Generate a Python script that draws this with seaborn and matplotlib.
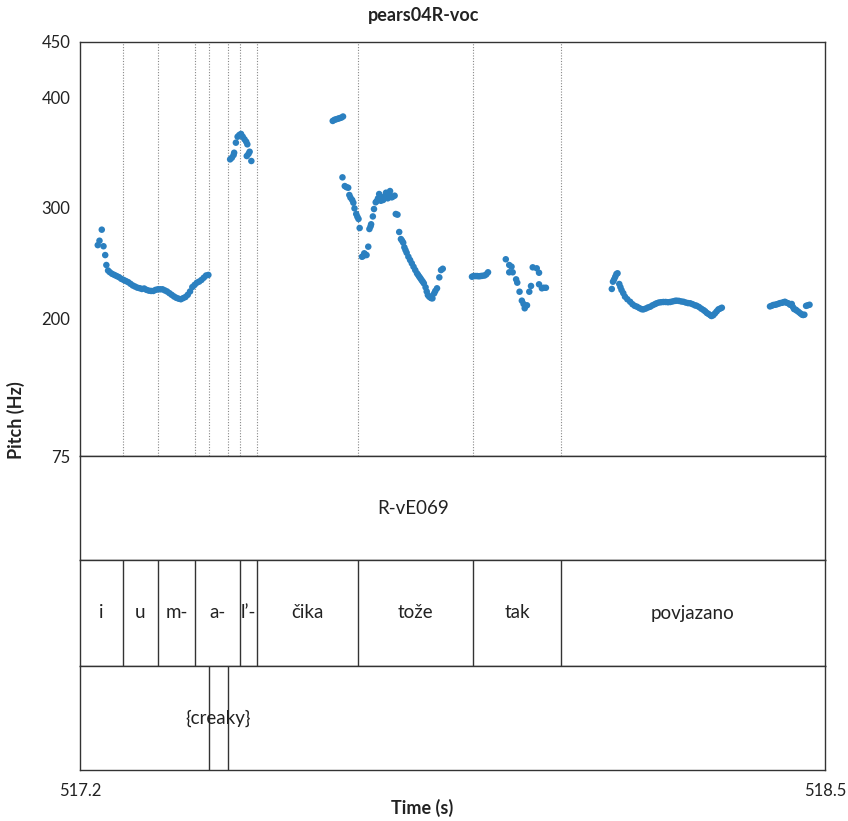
import numpy as np
import pandas as pd
import matplotlib
matplotlib.use("Agg")
import matplotlib.pyplot as plt
import seaborn as sns

# ---------------- data ----------------
title = "pears04R-voc"
t_min, t_max = 517.2, 518.5
pitch_ticks = [75, 200, 300, 400, 450]

seg_a_t = [517.231, 517.234, 517.238, 517.241, 517.244, 517.246, 517.249,
           517.252, 517.256, 517.260, 517.264, 517.268, 517.272, 517.276, 517.280,
           517.284, 517.288, 517.292, 517.296, 517.300, 517.304, 517.308, 517.312,
           517.316, 517.320, 517.324, 517.328, 517.332, 517.336, 517.340, 517.344,
           517.348, 517.352, 517.356, 517.360, 517.364, 517.368, 517.372, 517.376,
           517.380, 517.384, 517.388, 517.392, 517.396, 517.400, 517.404, 517.408,
           517.412, 517.416, 517.420, 517.424]
seg_a_f = [266.0, 270.0, 280.0, 265.0, 257.0, 248.0, 243.0,
           241.5, 240.0, 239.0, 238.0, 237.0, 235.5, 234.5, 233.5,
           232.5, 231.0, 229.5, 228.5, 227.5, 227.0, 226.3, 226.7,
           225.5, 224.8, 224.5, 224.5, 225.5, 226.0, 226.0, 226.0,
           225.0, 224.0, 222.5, 221.0, 219.5, 218.3, 217.5, 217.0,
           218.0, 219.0, 221.0, 224.0, 228.0, 230.0, 232.0, 233.0,
           234.5, 236.5, 238.5, 239.0]

seg_b_t = [517.462, 517.465, 517.468, 517.469, 517.472, 517.475, 517.478, 517.481,
           517.484, 517.487, 517.490, 517.492, 517.491, 517.494, 517.496, 517.499]
seg_b_f = [343.7, 345.2, 347.6, 349.7, 358.8, 364.2, 365.8, 366.7,
           364.2, 361.9, 359.7, 357.3, 346.7, 348.6, 350.6, 342.2]

seg_c_t = [517.641, 517.644, 517.647, 517.650, 517.653, 517.656, 517.659]
seg_c_f = [378.5, 379.5, 380.0, 380.5, 381.0, 381.5, 382.5]

seg_d_t = [517.658, 517.662, 517.665, 517.668, 517.670, 517.672, 517.675, 517.677,
           517.679, 517.682, 517.684, 517.686, 517.688,
           517.692, 517.694, 517.696, 517.698, 517.700, 517.703, 517.705, 517.707,
           517.708, 517.711, 517.713, 517.716, 517.718, 517.720, 517.722, 517.725,
           517.727, 517.729, 517.731, 517.734, 517.737, 517.739, 517.741, 517.744,
           517.746, 517.749, 517.751, 517.754, 517.757, 517.760, 517.762, 517.764,
           517.766, 517.768, 517.770, 517.773, 517.776, 517.779, 517.782, 517.785,
           517.788, 517.790, 517.792, 517.794, 517.796, 517.798, 517.800, 517.803,
           517.805, 517.807, 517.809, 517.811, 517.813, 517.815, 517.818, 517.820,
           517.823, 517.827, 517.830, 517.833]
seg_d_f = [327.4, 319.5, 318.5, 318.0, 311.4, 309.0, 306.9, 304.4,
           299.3, 294.2, 291.7, 289.7, 281.5,
           255.5, 256.0, 258.6, 257.5, 257.0, 264.6, 280.6, 283.0,
           284.9, 292.0, 298.7, 304.8, 306.0, 308.4, 312.3, 306.2,
           308.0, 306.9, 310.0, 313.5, 308.4, 312.0, 315.0, 309.3,
           310.0, 310.8, 294.2, 293.6, 277.9, 271.5, 270.0, 268.2,
           264.0, 261.5, 259.1, 255.5, 252.5, 249.5, 246.4, 243.4,
           240.5, 239.0, 237.4, 236.0, 234.4, 233.0, 231.4, 227.8,
           224.0, 220.8, 219.5, 218.7, 218.0, 217.8, 222.3, 224.5,
           226.9, 236.8, 243.4, 244.6]

seg_e_t = [517.884, 517.887, 517.890, 517.893, 517.896, 517.899, 517.902, 517.906,
           517.909, 517.912]
seg_e_f = [237.4, 238.0, 238.0, 238.0, 237.8, 238.0, 238.2, 238.5, 239.5, 241.4]

seg_f_t = [517.943, 517.949, 517.953, 517.949, 517.955, 517.961, 517.963, 517.967,
           517.971, 517.974, 517.976, 517.980, 517.984, 517.987, 517.990, 517.997,
           518.001, 518.001, 518.006, 518.009, 518.013]
seg_f_f = [253.2, 248.0, 246.5, 241.4, 241.4, 235.0, 232.0, 223.8,
           215.7, 212.7, 208.8, 211.5, 223.8, 229.0, 245.9, 245.0,
           241.0, 230.5, 226.9, 227.4, 227.4]

seg_g_t = [518.128, 518.130, 518.132, 518.134, 518.136, 518.138, 518.141, 518.143,
           518.145, 518.148, 518.151, 518.155, 518.160, 518.164, 518.168, 518.172,
           518.176, 518.180, 518.183, 518.187, 518.191, 518.195, 518.199, 518.203,
           518.206, 518.210, 518.214, 518.218, 518.222, 518.226, 518.230, 518.234,
           518.238, 518.241, 518.245, 518.249, 518.253, 518.257, 518.261, 518.265,
           518.269, 518.273, 518.276, 518.280, 518.284, 518.288, 518.291, 518.294,
           518.297, 518.300, 518.302, 518.305, 518.308, 518.311, 518.314, 518.317,
           518.320]
seg_g_f = [226.3, 232.9, 235.0, 237.4, 239.8, 240.5, 230.8, 228.0,
           225.3, 222.5, 219.3, 217.0, 214.7, 212.5, 211.0, 210.2,
           209.0, 208.0, 207.8, 208.5, 209.5, 210.2, 211.5, 212.5,
           213.3, 214.0, 214.3, 214.5, 214.5, 214.3, 214.5, 215.0,
           215.5, 215.7, 215.5, 215.0, 214.7, 214.0, 213.5, 213.3,
           212.5, 211.5, 211.1, 210.0, 208.5, 207.2, 206.0, 204.5,
           203.6, 202.5, 201.8, 202.5, 204.2, 206.0, 207.8, 208.5,
           209.3]

seg_h_t = [518.404, 518.407, 518.410, 518.413, 518.416, 518.419, 518.422, 518.425,
           518.428, 518.430, 518.433, 518.436, 518.439, 518.442, 518.444, 518.446,
           518.449, 518.451, 518.454, 518.457, 518.460, 518.462, 518.464,
           518.467, 518.470, 518.473]
seg_h_f = [210.5, 211.1, 211.8, 212.0, 212.4, 213.0, 213.5, 213.8,
           214.3, 214.7, 213.8, 213.3, 212.0, 212.7, 210.0, 208.1,
           207.5, 206.6, 205.5, 204.2, 203.0, 202.7, 203.0,
           211.0, 211.5, 212.0]

# tiers (interval edges; tier 1 interval starts before the visible window)
tier1_edges = [517.062, 518.5]
tier1_labels = ["R-vE069"]
tier2_edges = [517.2, 517.275, 517.336, 517.401, 517.479, 517.509, 517.685,
               517.886, 518.039, 518.5]
tier2_labels = ["i", "u", "m-", "a-", "l\u2019-", "\u010dika", "to\u017ee", "tak", "povjazano"]
tier3_edges = [517.2, 517.425, 517.458, 518.5]
tier3_labels = ["", "{creaky}", ""]

# ---------------- figure ----------------
sns.set_theme(style="white")
plt.rcParams["font.family"] = ["Lato", "DejaVu Sans"]

times = (seg_a_t + seg_b_t + seg_c_t + seg_d_t + seg_e_t + seg_f_t + seg_g_t + seg_h_t)
freqs = (seg_a_f + seg_b_f + seg_c_f + seg_d_f + seg_e_f + seg_f_f + seg_g_f + seg_h_f)
df = pd.DataFrame({"time": times, "pitch": freqs})

W, H = 848, 821
fig = plt.figure(figsize=(W / 100, H / 100), dpi=100)
left, right = 80 / W, 825 / W
top, bottom = 1 - 42 / H, 1 - 770 / H
gs = fig.add_gridspec(4, 1, height_ratios=[414, 104, 106, 104], hspace=0,
                      left=left, right=right, top=top, bottom=bottom)
ax = fig.add_subplot(gs[0])
tiers = [fig.add_subplot(gs[i], sharex=ax) for i in (1, 2, 3)]

edge = "#333333"
blue = "#2b80c0"
txt = "#222222"

inner = sorted(set(tier2_edges[1:-1] + tier3_edges[1:-1]))
for b in inner:
    ax.axvline(b, color="#888888", lw=0.8, ls=(0, (1, 1.5)), zorder=1)

sns.scatterplot(data=df, x="time", y="pitch", ax=ax, color=blue, s=22,
                edgecolor="none", linewidth=0, zorder=3, legend=False)
ax.set_xlim(t_min, t_max)
ax.set_ylim(75, 450)
ax.set_yticks(pitch_ticks)
ax.set_yticklabels([str(v) for v in pitch_ticks])
ax.tick_params(axis="y", length=0, pad=7, labelsize=12, colors=txt)
ax.tick_params(axis="x", length=0, labelbottom=False)
ax.set_xlabel("")
ax.set_ylabel("")

tier_defs = [(tier1_edges, tier1_labels), (tier2_edges, tier2_labels),
             (tier3_edges, tier3_labels)]
for tax, (edges, labels) in zip(tiers, tier_defs):
    tax.set_ylim(0, 1)
    tax.set_yticks([])
    for b in edges:
        if t_min < b < t_max:
            tax.axvline(b, color=edge, lw=1.0, zorder=2)
    for i, lab in enumerate(labels):
        if lab:
            tax.text((edges[i] + edges[i + 1]) / 2, 0.5, lab, ha="center",
                     va="center", fontsize=13.5, color=txt)
    tax.tick_params(axis="x", length=0, labelbottom=False)

for a in [ax] + tiers:
    for sp in a.spines.values():
        sp.set_color(edge)
        sp.set_linewidth(1.0)

last = tiers[-1]
last.set_xticks([t_min, t_max])
last.set_xticklabels(["517.2", "518.5"])
last.tick_params(axis="x", length=0, pad=9, labelsize=12, labelbottom=True,
                 colors=txt)
last.set_xlabel("")

fig.text(0.5, 1 - 15 / H, title, ha="center", va="center", fontsize=13,
         fontweight="bold", color=txt)
fig.text(422 / W, 1 - 808 / H, "Time (s)", ha="center", va="center",
         fontsize=13, fontweight="bold", color=txt)
fig.text(16 / W, 1 - 420 / H, "Pitch (Hz)", rotation=90, ha="center",
         va="center", fontsize=13, fontweight="bold", color=txt)

fig.savefig("out.png", dpi=100)
